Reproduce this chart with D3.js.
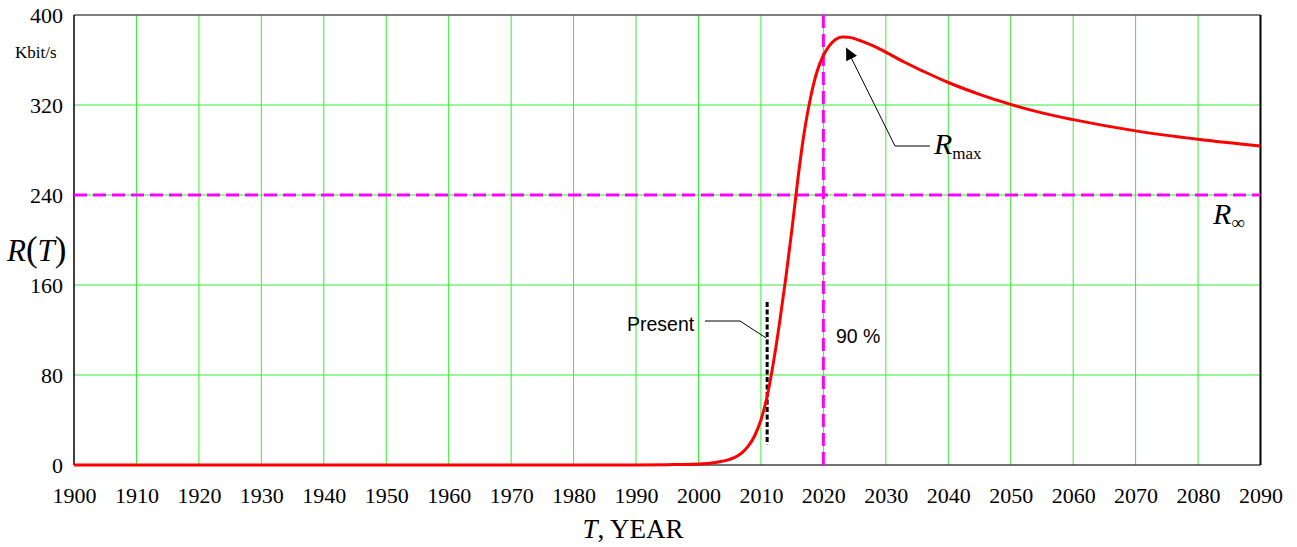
<!DOCTYPE html>
<html>
<head>
<meta charset="utf-8">
<script src="https://cdn.jsdelivr.net/npm/d3@7"></script>
<style>
  html, body { margin: 0; padding: 0; background: #fff; }
  svg { display: block; }
</style>
</head>
<body>
<svg id="chart" width="1297" height="547"></svg>
<script>
// ---- data ----
const years  = [1900, 1950, 1980, 1990, 1995, 2000, 2003, 2005, 2007, 2008, 2009, 2010, 2011, 2012, 2013, 2014, 2015, 2016, 2017, 2018, 2019, 2020, 2021, 2022, 2023, 2024, 2025, 2026, 2028, 2030, 2033, 2036, 2040, 2045, 2050, 2055, 2060, 2070, 2080, 2090];
const rates  = [0, 0, 0, 0.1, 0.3, 0.8, 2.5, 5, 11, 17, 26, 40, 61, 91, 127, 167, 211, 258, 298, 328, 350, 364, 373, 378.5, 380.5, 380.3, 379, 377, 372.5, 367, 358, 350, 340, 329.5, 320.5, 313, 307, 297, 289.5, 283.5];
const xTicks = [1900, 1910, 1920, 1930, 1940, 1950, 1960, 1970, 1980, 1990, 2000, 2010, 2020, 2030, 2040, 2050, 2060, 2070, 2080, 2090];
const yTicks = [0, 80, 160, 240, 320, 400];
const rInfinity = 240;       // horizontal asymptote
const year90 = 2020;         // 90 % year
const presentYear = 2011;
const presentRange = [18, 145];
const rMaxPoint = [2023.5, 378];

// ---- layout ----
const svg = d3.select("#chart");
const x = d3.scaleLinear().domain([1900, 2090]).range([74, 1260.5]);
const y = d3.scaleLinear().domain([0, 400]).range([465, 15]);
const serif = "'Liberation Serif', 'Times New Roman', serif";
const sans = "'Liberation Sans', Arial, sans-serif";

// grid
const grid = svg.append("g").attr("stroke", "#33ee33").attr("stroke-width", 1);
grid.selectAll("line.v").data(xTicks.slice(1, -1)).join("line")
  .attr("x1", d => x(d)).attr("x2", d => x(d)).attr("y1", y(400)).attr("y2", y(0));
grid.selectAll("line.h").data(yTicks.slice(1, -1)).join("line")
  .attr("x1", x(1900)).attr("x2", x(2090)).attr("y1", d => y(d)).attr("y2", d => y(d));

// frame
svg.append("line").attr("x1", x(1900)).attr("x2", x(2090)).attr("y1", y(400)).attr("y2", y(400)).attr("stroke", "#555").attr("stroke-width", 1.5);
svg.append("line").attr("x1", x(1900)).attr("x2", x(2090)).attr("y1", y(0)).attr("y2", y(0)).attr("stroke", "#444").attr("stroke-width", 1.5);
svg.append("line").attr("x1", x(1900)).attr("x2", x(1900)).attr("y1", y(400)).attr("y2", y(0)).attr("stroke", "#000").attr("stroke-width", 1.5);
svg.append("line").attr("x1", x(2090)).attr("x2", x(2090)).attr("y1", y(400)).attr("y2", y(0)).attr("stroke", "#000").attr("stroke-width", 2);

// axes (labels only, via d3 axis)
const xAxis = svg.append("g").attr("transform", `translate(0,${y(0)})`)
  .call(d3.axisBottom(x).tickValues(xTicks).tickFormat(d3.format("d")).tickSize(0).tickPadding(22));
xAxis.select(".domain").remove();
xAxis.selectAll("text").attr("font-family", serif).attr("font-size", 22).attr("fill", "#000");

const yAxis = svg.append("g").attr("transform", `translate(${x(1900)},0)`)
  .call(d3.axisLeft(y).tickValues(yTicks).tickFormat(d3.format("d")).tickSize(0).tickPadding(11));
yAxis.select(".domain").remove();
yAxis.selectAll("text").attr("font-family", serif).attr("font-size", 22).attr("fill", "#000");

// magenta dashed reference lines
svg.append("line").attr("x1", x(1900)).attr("x2", x(2090)).attr("y1", y(rInfinity)).attr("y2", y(rInfinity))
  .attr("stroke", "#ff00ff").attr("stroke-width", 3).attr("stroke-dasharray", "13,6");
svg.append("line").attr("x1", x(year90)).attr("x2", x(year90)).attr("y1", y(400)).attr("y2", y(0))
  .attr("stroke", "#ff00ff").attr("stroke-width", 3).attr("stroke-dasharray", "13,6");

// present marker
svg.append("line").attr("x1", x(presentYear)).attr("x2", x(presentYear))
  .attr("y1", y(presentRange[1])).attr("y2", y(presentRange[0]))
  .attr("stroke", "#000").attr("stroke-width", 3).attr("stroke-dasharray", "5,2.5");

// curve
const pts = years.map((d, i) => [d, rates[i]]);
svg.append("path").datum(pts)
  .attr("fill", "none").attr("stroke", "#ff0000").attr("stroke-width", 3)
  .attr("d", d3.line().x(d => x(d[0])).y(d => y(d[1])).curve(d3.curveMonotoneX));

// Present annotation
svg.append("text").attr("x", 627).attr("y", 331).attr("font-family", sans).attr("font-size", 19.5).text("Present");
svg.append("polyline").attr("points", `705,321 740,321 ${x(presentYear) - 1},338`)
  .attr("fill", "none").attr("stroke", "#000").attr("stroke-width", 1);

// 90 % label
svg.append("text").attr("x", 836).attr("y", 343).attr("font-family", sans).attr("font-size", 19.5).text("90 %");

// Rmax annotation with arrow
svg.append("defs").append("marker").attr("id", "arr").attr("viewBox", "0 0 10 10")
  .attr("refX", 10).attr("refY", 5).attr("markerWidth", 14).attr("markerHeight", 12)
  .attr("markerUnits", "userSpaceOnUse").attr("orient", "auto")
  .append("path").attr("d", "M0,0 L10,5 L0,10 z").attr("fill", "#000");
svg.append("polyline").attr("points", `930,146 895,146 ${x(rMaxPoint[0]) + 1},${y(rMaxPoint[1]) + 8}`)
  .attr("fill", "none").attr("stroke", "#000").attr("stroke-width", 1).attr("marker-end", "url(#arr)");
const rmax = svg.append("text").attr("x", 934).attr("y", 154).attr("font-family", serif).attr("font-size", 30);
rmax.append("tspan").attr("font-style", "italic").text("R");
rmax.append("tspan").attr("font-size", 17).attr("dy", 5).text("max");

// R infinity
const rinf = svg.append("text").attr("x", 1213).attr("y", 224).attr("font-family", serif).attr("font-size", 30);
rinf.append("tspan").attr("font-style", "italic").text("R");
rinf.append("tspan").attr("font-size", 19).attr("dy", 5).text("∞");

// axis titles
svg.append("text").attr("x", 15).attr("y", 58).attr("font-family", serif).attr("font-size", 17).text("Kbit/s");
const rt = svg.append("text").attr("x", 7).attr("y", 261).attr("font-family", serif).attr("font-size", 31);
rt.append("tspan").attr("font-style", "italic").text("R");
rt.append("tspan").attr("font-size", 35).text("(");
rt.append("tspan").attr("font-style", "italic").text("T");
rt.append("tspan").attr("font-size", 35).text(")");

const xt = svg.append("text").attr("x", 633).attr("y", 538).attr("text-anchor", "middle").attr("font-family", serif).attr("font-size", 27);
xt.append("tspan").attr("font-style", "italic").text("T");
xt.append("tspan").text(", YEAR");
</script>
</body>
</html>
